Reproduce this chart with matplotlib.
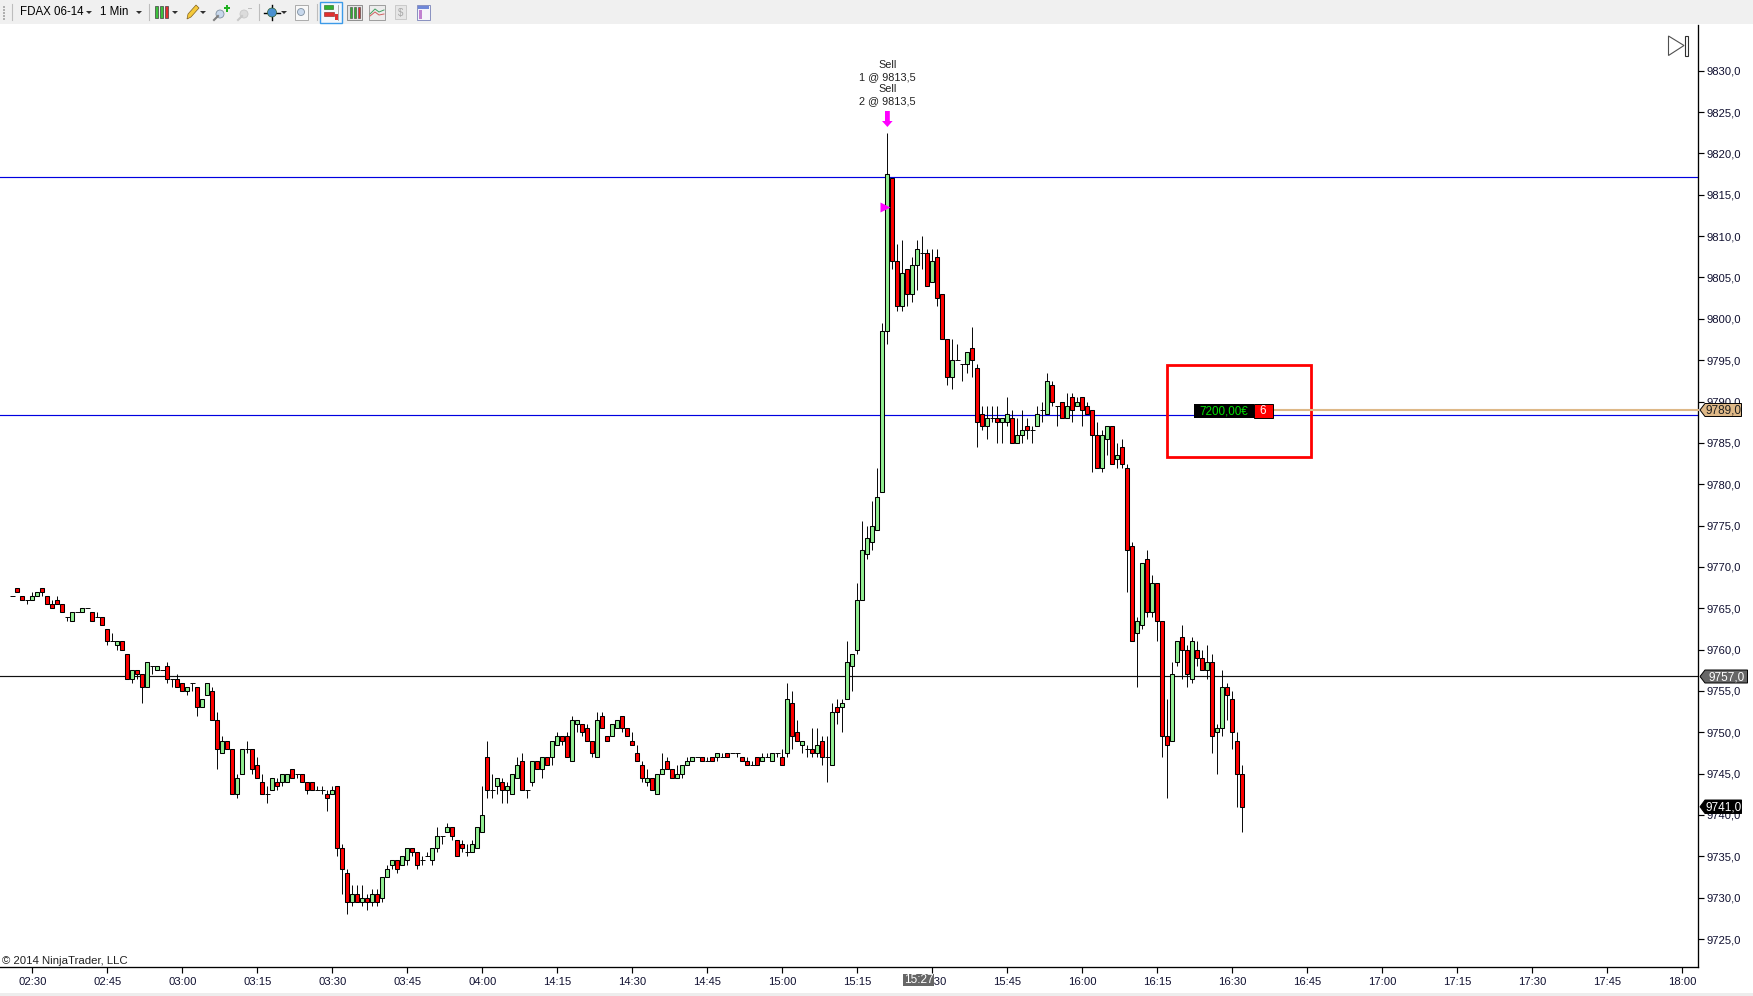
import matplotlib
matplotlib.use("Agg")
import matplotlib.pyplot as plt
from matplotlib.patches import Rectangle, Polygon, Circle
import numpy as np

plt.rcParams['font.family'] = ['Liberation Sans', 'DejaVu Sans']

opens = [
9766.5,9767.5,9766.5,9766,9766,9766.5,9767.5,9766.5,9765.5,9766,
9765.5,9764,9763.5,9764.5,9764.5,9765,9764.5,9764,9764,9762.5,
9761,9760.5,9761,9759.5,9756.5,9757.5,9757,9755.5,9758,9757.5,
9757.5,9758,9756.5,9756.5,9756,9755,9756,9755.5,9753,9754.5,
9755,9751.5,9747.5,9749,9748,9742.5,9745,9748,9748,9746,
9744,9742.5,9743,9744,9744,9744,9745.5,9745,9745,9744,
9744,9743,9743,9742.5,9742.5,9743.5,9736,9733,9729.5,9730.5,
9729.5,9730,9729.5,9730.5,9730,9732.5,9734,9734.5,9734,9734.5,
9736,9735.5,9734.5,9735,9734.5,9736,9737.5,9738,9738.5,9737,
9736.5,9735.5,9735.5,9736,9738,9747,9743,9743.5,9744,9743,
9742.5,9744.5,9746.5,9743,9744,9746.5,9745.5,9747,9747,9748.5,
9749.5,9749.5,9746.5,9751,9751,9750.5,9749,9747,9752,9749.5,
9749.5,9750.5,9752,9750.5,9749,9747.5,9746,9744,9744.5,9742.5,
9745,9746.5,9745.5,9744.5,9745,9746,9746.5,9747,9747,9746.5,
9747,9747,9747,9747.5,9747.5,9747.5,9747,9746.5,9746,9747,
9746.5,9747,9746.5,9747.5,9747,9747.5,9753.5,9750,9748.5,9748,
9748,9747.5,9749,9747,9746,9753,9753,9754,9758,9760,
9766,9771.5,9773,9774.5,9779,9798.5,9817,9807,9801.5,9806,
9803,9806.5,9808,9808,9804.5,9807.5,9803,9797.5,9793,9795,
9794.5,9794.5,9796.5,9794,9788.5,9787,9788,9788,9787.5,9787.5,
9788,9785,9786,9787,9786.5,9787,9789,9788.5,9792,9789.5,
9790,9788,9790.5,9789.5,9790.5,9789.5,9789,9786,9782,9785.5,
9787,9783,9784.5,9782,9772.5,9762,9763,9771,9764.5,9768,
9763.5,9749.5,9749,9758.5,9761.5,9760,9756.5,9760,9759,9757.5,
9758.5,9750,9750.5,9755.5,9754,9749,9745]
closes = [
9766.5,9767,9766,9766,9766.5,9767,9767,9765.5,9765,9765.5,
9764.5,9764,9764.5,9764.5,9765,9765,9763.5,9764,9763,9761,
9761,9761,9760,9756.5,9757.5,9757,9755.5,9758.5,9758,9758,
9757.5,9756.5,9756.5,9755.5,9755,9755.5,9756,9753,9754,9756,
9751.5,9748,9749,9748,9742.5,9744.5,9748,9748,9745.5,9744.5,
9742.5,9742.5,9744.5,9743.5,9745,9745,9744.5,9745,9744,9743,
9743,9743,9743,9742,9743,9736,9733.5,9729.5,9730.5,9729.5,
9730,9729.5,9730.5,9729.5,9732.5,9733.5,9734.5,9733.5,9735,9736,
9735.5,9734,9734.5,9735,9736,9737.5,9737.5,9738.5,9737.5,9735,
9736,9735.5,9736.5,9738.5,9740,9743,9743,9744.5,9743,9743.5,
9745,9746,9743,9743,9746.5,9745.5,9747,9746,9749,9749.5,
9749,9747,9751.5,9751.5,9750,9749,9747.5,9751.5,9750.5,9749,
9751,9751.5,9750.5,9749.5,9748.5,9746.5,9744.5,9744.5,9743,9745,
9745.5,9745.5,9744.5,9745,9746,9746.5,9747,9747,9746.5,9746.5,
9746.5,9747.5,9747,9747,9747.5,9747.5,9746.5,9746,9746,9746,
9747,9747,9747.5,9747.5,9746,9754,9749.5,9749,9749,9748,
9747.5,9748.5,9747,9747,9752.5,9752.5,9753.5,9758.5,9759.5,9766,
9772,9773.5,9775,9778.5,9798.5,9817.5,9807,9801.5,9805.5,9803,
9806.5,9808.5,9808,9804,9807,9802.5,9797.5,9793,9795,9795,
9794.5,9796,9795,9787.5,9787,9788,9788,9787.5,9788,9788.5,
9785,9786,9786.5,9786.5,9786.5,9788.5,9789,9792.5,9790,9789.5,
9788,9789.5,9789,9790,9789,9788.5,9786,9782,9786,9787,
9782.5,9783.5,9782.5,9772,9761,9763.5,9770.5,9764.5,9768,9763.5,
9749.5,9748.5,9757,9761,9760,9757,9761,9759,9757.5,9758.5,
9749.5,9750.5,9755.5,9754.5,9750,9745,9741]
highs = [
9766.5,9767.5,9766.5,9766,9767,9767,9767.5,9766.5,9766,9766.5,
9765.5,9764,9764.5,9764.5,9765,9765,9764.5,9764.5,9764,9762.5,
9762,9761,9761,9759.5,9757.5,9757.5,9757,9758.5,9758,9758,
9757.5,9758.5,9756.5,9757,9756,9755.5,9756,9755.5,9754,9756,
9755.5,9752.5,9749.5,9749,9748,9745,9748,9749,9748,9747,
9745,9743.5,9744.5,9744.5,9745,9745,9745.5,9745,9745,9744,
9744,9743.5,9743.5,9743,9743.5,9743.5,9736.5,9733.5,9731.5,9731.5,
9731.5,9730.5,9731,9731,9732.5,9734,9734.5,9734.5,9735,9736,
9736,9735.5,9735,9735.5,9736,9738.5,9737.5,9739,9738.5,9737,
9737,9736.5,9737,9738.5,9743.5,9749,9745,9744.5,9744.5,9744,
9745,9747,9747.5,9743,9746.5,9746.5,9747,9747,9749,9750,
9749.5,9750,9752,9751.5,9751,9751,9749,9752.5,9752.5,9749.5,
9751,9751.5,9752,9750.5,9750,9748.5,9746.5,9745.5,9744.5,9745,
9747.5,9747,9745.5,9746,9746,9747,9747,9747,9747,9747,
9747,9747.5,9747.5,9747.5,9747.5,9747.5,9747,9747,9746.5,9747,
9747.5,9747.5,9747.5,9747.5,9748,9756,9755,9751.5,9749,9748.5,
9750.5,9750.5,9749.5,9749.5,9753.5,9754,9754,9761,9759.5,9768,
9775.5,9775,9778,9782,9799.5,9822.5,9817,9809,9809.5,9806,
9807.5,9809.5,9810,9808.5,9808.5,9808.5,9803,9797.5,9797.5,9797,
9794.5,9796,9799,9794.5,9789.5,9789.5,9789.5,9789.5,9788,9790.5,
9789,9788,9789,9788,9787,9789.5,9790,9793.5,9792.5,9789.5,
9790,9791,9791,9790.5,9790.5,9790,9789,9787.5,9786.5,9787,
9787,9785,9785.5,9782.5,9773,9764,9770.5,9772,9769,9768,
9763.5,9754,9758.5,9761,9763,9760.5,9761.5,9761,9760,9760.5,
9759.5,9751,9757.5,9756,9755,9750,9746]
lows = [
9766.5,9767,9766,9765.5,9766,9766.5,9766.5,9765.5,9765,9765.5,
9764.5,9763.5,9763.5,9764.5,9764.5,9765,9763.5,9764,9763,9760.5,
9761,9760,9760,9756.5,9756,9756.5,9753.5,9755.5,9757,9757.5,
9757.5,9756,9755.5,9755.5,9755,9754.5,9755,9752,9753,9754.5,
9751.5,9745.5,9747.5,9748,9742.5,9742,9745,9747.5,9745,9744.5,
9742.5,9741.5,9743,9743,9743.5,9744,9744.5,9744.5,9744,9742.5,
9743,9743,9742.5,9740.5,9742.5,9735,9730.5,9728,9729,9729.5,
9729,9728.5,9729,9729,9729.5,9732.5,9733.5,9733,9734,9734,
9735,9733.5,9734,9735,9734,9735.5,9736.5,9738,9737,9735,
9735.5,9735,9735.5,9736,9738,9742,9742,9742.5,9741.5,9741.5,
9742.5,9744.5,9743,9742,9743.5,9745.5,9744.5,9746,9746,9748.5,
9748.5,9747,9746.5,9750,9749.5,9749,9747,9747,9750.5,9749,
9749.5,9750.5,9750,9749.5,9748.5,9746.5,9744,9743.5,9743,9742.5,
9745,9745.5,9744.5,9744.5,9744.5,9746,9746.5,9747,9746.5,9746.5,
9746.5,9746.5,9747,9747,9747.5,9747,9746.5,9746,9746,9746,
9746.5,9747,9746.5,9747,9746,9747,9748,9749,9747.5,9747,
9747,9747,9746,9744,9746,9751,9750,9754,9755,9759.5,
9766,9771,9772,9774.5,9779,9797,9806,9801,9801,9801.5,
9802,9803.5,9806,9804,9804.5,9801.5,9797.5,9792,9791.5,9795,
9792.5,9793.5,9793,9784.5,9786.5,9785.5,9787.5,9785,9785,9787,
9785,9785,9785,9785.5,9785,9787,9787.5,9788.5,9789.5,9787,
9788,9788,9787.5,9789.5,9787,9788.5,9781.5,9782,9781.5,9783.5,
9782.5,9782,9782,9767,9761,9755.5,9762.5,9764,9764,9761,
9747,9742,9749,9758,9756.5,9755.5,9756,9758,9757.5,9756.5,
9747.5,9745,9749.5,9751.5,9748,9741,9738]

time_labels = ['02:30','02:45','03:00','03:15','03:30','03:45','04:00','14:15','14:30','14:45',
               '15:00','15:15','15:30','15:45','16:00','16:15','16:30','16:45','17:00','17:15',
               '17:30','17:45','18:00']
first_tick_bar = 4
price_ticks = list(range(9725, 9835, 5))
support_levels = [9817.1, 9788.33]
last_level = 9756.8
position_level = 9789.0
sell_bar = 175
fill_price = 9813.5

W, H = 1753, 996
fig = plt.figure(figsize=(W/100, H/100), dpi=100, facecolor='white')

# main axes, pixel extents 0..1698.3 x 25..967.3
ax = fig.add_axes([0, 1-967.3/H, 1698.3/W, (967.3-25)/H])
ax.set_xlim(-2.46, 337.2)
ax.set_ylim(9721.58, 9835.53)
ax.spines['top'].set_visible(False)
ax.spines['left'].set_visible(False)
for s in ('right', 'bottom'):
    ax.spines[s].set_linewidth(0.95)

o = np.array(opens); c = np.array(closes); hi = np.array(highs); lo = np.array(lows)
n = len(o)
k = np.arange(n)

for lvl in support_levels:
    ax.axhline(lvl, color='#0000E0', lw=0.85, zorder=1)
ax.axhline(last_level, color='#101010', lw=0.85, zorder=1)

ax.vlines(k, lo, hi, colors='black', lw=0.68, zorder=2)
doji = o == c
ax.hlines(c[doji], k[doji]-0.5, k[doji]+0.5, colors='black', lw=0.68, zorder=2)
body = ~doji
up = c > o
cols = np.where(up, '#90EE90', '#FF0000')
ax.bar(k[body], np.abs(c-o)[body], bottom=np.minimum(o, c)[body], width=0.76,
       color=cols[body].tolist(), edgecolor='black', linewidth=0.75, zorder=3)

ax.plot([sell_bar-0.55], [fill_price], marker='>', ms=6.5, color='#FF00FF', mec='none', zorder=4)

ax.set_yticks(price_ticks)
ax.set_yticklabels([f'{p},0' for p in price_ticks])
ax.yaxis.tick_right()
ax.tick_params(axis='y', length=4.3, width=0.85, pad=1.6, labelsize=8.1, labelcolor='#101030')
tick_bars = [first_tick_bar + 15*i for i in range(len(time_labels))]
ax.set_xticks(tick_bars)
ax.set_xticklabels(time_labels)
ax.tick_params(axis='x', length=4.3, width=0.85, pad=3, labelsize=8.1, labelcolor='#101030')

# overlay in pixel coordinates for platform chrome
ov = fig.add_axes([0, 0, 1, 1], zorder=5)
ov.set_xlim(0, W); ov.set_ylim(H, 0); ov.axis('off'); ov.patch.set_alpha(0)

def rect(x0, y0, x1, y1, fc='none', ec='none', lw=0.8, z=1):
    ov.add_patch(Rectangle((x0, y0), x1-x0, y1-y0, fc=fc, ec=ec, lw=lw, zorder=z))
def poly(pts, fc='none', ec='none', lw=0.8, z=2):
    ov.add_patch(Polygon(pts, closed=True, fc=fc, ec=ec, lw=lw, zorder=z))
def txt(x, y, s, color='#101030', size=8.1, ha='center', z=5):
    ov.text(x, y, s, color=color, fontsize=size, ha=ha, va='center', zorder=z)
def arrow(x, y=12.5):
    poly([(x-3, y-1.5), (x+3, y-1.5), (x, y+1.5)], fc='#303030')

# toolbar
rect(0, 0, W, 24, fc='#F0F0F0')
rect(0, 993, W, 996, fc='#EDEDED')
for yy in (6, 9, 12, 15, 18):
    rect(3, yy, 5, yy+1.5, fc='#B0B0B0')
for xx in (12.5, 149.5, 259.5, 317):
    ov.plot([xx, xx], [4, 20], color='#BDBDBD', lw=0.8)
txt(20, 12, 'FDAX 06-14', size=8.3, ha='left', color='black')
arrow(89)
txt(100, 12, '1 Min', size=8.3, ha='left', color='black')
arrow(139)
# candle icon
for xx, col in ((157, '#3CC03C'), (162, '#3CC03C'), (167, '#E03030')):
    rect(xx-1.5, 6, xx+1.5, 18, fc=col, ec='#404040', lw=0.5)
arrow(175)
# pencil
poly([(187, 19), (188, 14), (196, 5), (199, 8), (191, 17)], fc='#F5C93A', ec='#806020', lw=0.5)
arrow(203)
# zoom +
ov.plot([214, 218], [20, 16], color='#808080', lw=1.5)
ov.add_patch(Circle((220, 14), 4, fc='#C8D8EC', ec='#8090A0', lw=0.6))
rect(224, 7.2, 230, 9.2, fc='#20B020'); rect(226, 5, 228, 11.5, fc='#20B020')
# zoom - disabled
ov.plot([238, 242], [20, 16], color='#C8C8C8', lw=1.5)
ov.add_patch(Circle((244, 14), 4, fc='#DCDCDC', ec='#C8C8C8', lw=0.6))
rect(248, 7.5, 252, 9, fc='#C0C0C0')
# crosshair
ov.plot([272, 272], [5, 20], color='black', lw=1)
ov.plot([264, 280], [12.5, 12.5], color='black', lw=1)
ov.add_patch(Circle((272, 12.5), 4.5, fc='#4A90D0', ec='#306030', lw=0.5, zorder=3))
arrow(284)
# magnifier box
rect(295, 5, 308, 20, fc='#F8F8F8', ec='#A0A0A0', lw=0.6)
ov.add_patch(Circle((301, 12), 3.5, fc='#C8D8EC', ec='#8090A0', lw=0.6, zorder=3))
# selected button
rect(320.5, 1.5, 342.5, 23, fc='#F4F8FC', ec='#3C9AE8', lw=1)
rect(324, 5, 333, 9, fc='#30B030', ec='#206020', lw=0.4, z=3)
rect(324, 12, 334, 16, fc='#E03030', ec='#802020', lw=0.4, z=3)
rect(335, 14, 338, 20, fc='#E03030', z=3)
ov.plot([338, 338], [5, 20], color='#A0A0A0', lw=0.6, zorder=3)
# bordered icons
rect(347, 4.5, 362, 20, fc='#E4E4E4', ec='#808080', lw=0.6)
for xx, col in ((351, '#30B030'), (355, '#30B030'), (359, '#E03030')):
    rect(xx-1.2, 7, xx+1.2, 18, fc=col, ec='#404040', lw=0.4, z=3)
rect(369, 4.5, 385, 20, fc='#ECECEC', ec='#909090', lw=0.6)
ov.plot([370, 375, 379, 384], [14, 9, 12, 10], color='#40A060', lw=0.7, zorder=3)
ov.plot([370, 375, 379, 384], [16, 12, 15, 14], color='#D06060', lw=0.7, zorder=3)
rect(395, 5, 406, 19, fc='#E6E6E6', ec='#C4C4C4', lw=0.6)
txt(400.5, 12.5, '$', color='#A8A8A8', size=7)
rect(417, 4.5, 430, 20, fc='#F4F4FA', ec='#8890C0', lw=0.7)
rect(418, 5.5, 429, 8.5, fc='#7088D8', z=3)
rect(419, 10, 422, 18.5, fc='#C080D0', z=3)

# next-page icon top right
poly([(1668.5, 36), (1684, 45.5), (1668.5, 55.5)], ec='#505050', lw=0.8)
rect(1685.5, 35.5, 1688.5, 55.5, ec='#303030', lw=0.8)

# sell annotation
for yy, s in zip((65, 77, 89, 101), ('Sell', '1 @ 9813,5', 'Sell', '2 @ 9813,5')):
    txt(887.3, yy, s, color='#202020', size=7.8)
poly([(885, 111), (889.8, 111), (889.8, 121), (892.6, 121), (887.4, 127), (882, 121), (885, 121)],
     fc='#FF00FF')

# position marker
ov.plot([1273, 1698], [410, 410], color='#DEB887', lw=1.5, zorder=2)
rect(1194, 404, 1254, 418, fc='black', z=3)
rect(1254, 404, 1273, 418, fc='#FF0000', ec='black', lw=0.7, z=3)
txt(1223.5, 411, '7200,00€', color='#00E000', size=8.4)
txt(1263, 411, '6', color='white', size=8.4)
rect(1167.5, 364.5, 1311, 457, ec='#FF0000', lw=2)

# price tags
def tag(y0, y1, x1, fc, tc, s, ec='black'):
    ym = (y0+y1)/2
    poly([(1700, ym), (1705, y0), (x1, y0), (x1, y1), (1705, y1)], fc=fc, ec=ec, lw=0.7, z=4)
    txt((1705+x1)/2 + 0.5, ym+0.5, s, color=tc, size=8.5)
tag(403.5, 416.5, 1741.5, '#DEB887', '#202020', '9789,0')
tag(670, 683, 1747.5, '#666666', 'white', '9757,0')
tag(800, 813.5, 1741.5, 'black', 'white', '9741,0')

# crosshair time box
rect(903.5, 973.5, 934, 986, fc='#666666', z=4)
txt(918.7, 980, '15:27', color='white', size=8.5)

txt(2, 960.5, '© 2014 NinjaTrader, LLC', color='#202020', size=8.2, ha='left')

fig.savefig('out.png', dpi=100)
